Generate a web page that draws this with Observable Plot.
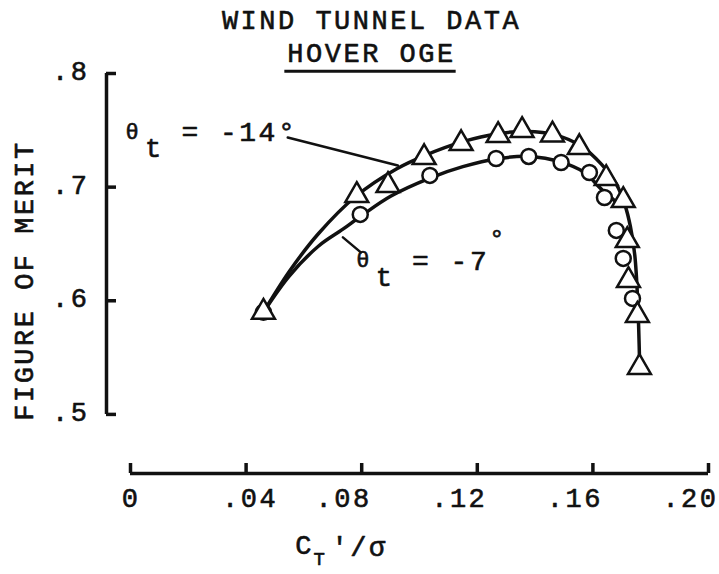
<!DOCTYPE html>
<html><head><meta charset="utf-8">
<script src="https://cdn.jsdelivr.net/npm/d3@7"></script>
<script src="https://cdn.jsdelivr.net/npm/@observablehq/plot@0.6"></script>
<style>html,body{margin:0;padding:0;background:#fff}svg{display:block}</style>
</head><body><div id="chart"></div>
<script>
// ---- data ----
const xTicks = [0, 0.04, 0.08, 0.12, 0.16, 0.20];
const xTickLabels = ["0", ".04", ".08", ".12", ".16", ".20"];
const yTicks = [0.5, 0.6, 0.7, 0.8];
const yTickLabels = [".5", ".6", ".7", ".8"];

// theta_t = -14 deg (triangles)
const triCT = [0.046, 0.0783, 0.0891, 0.1016, 0.1144, 0.1272, 0.1355, 0.1460, 0.1553, 0.1646, 0.1705, 0.1719, 0.1723, 0.1754, 0.1761];
const triFM = [0.590, 0.6927, 0.7015, 0.7261, 0.7384, 0.7455, 0.7499, 0.7460, 0.7349, 0.7077, 0.6883, 0.6531, 0.6179, 0.5872, 0.5414];
// theta_t = -7 deg (circles)
const cirCT = [0.046, 0.0795, 0.1036, 0.1265, 0.1378, 0.1490, 0.1588, 0.1640, 0.1681, 0.1705, 0.1737];
const cirFM = [0.590, 0.6760, 0.7103, 0.7252, 0.7270, 0.7217, 0.7129, 0.6909, 0.6619, 0.6373, 0.6021];

// faired curves
const fair14CT = [0.046, 0.055, 0.065, 0.078, 0.092, 0.102, 0.115, 0.127, 0.137, 0.147, 0.156, 0.163, 0.168, 0.171, 0.173, 0.1745, 0.1755, 0.1762];
const fair14FM = [0.590, 0.626, 0.659, 0.692, 0.716, 0.728, 0.740, 0.747, 0.749, 0.746, 0.736, 0.720, 0.703, 0.685, 0.665, 0.640, 0.600, 0.541];
const fair7CT = [0.046, 0.055, 0.065, 0.0735, 0.080, 0.090, 0.1036, 0.115, 0.127, 0.138, 0.149, 0.157, 0.163, 0.1685];
const fair7FM = [0.590, 0.622, 0.648, 0.663, 0.675, 0.692, 0.708, 0.718, 0.725, 0.727, 0.722, 0.713, 0.698, 0.686];

// label leader lines
const lead14CT = [0.0544, 0.0925];
const lead14FM = [0.7437, 0.7190];
const lead7CT = [0.0735, 0.0797];
const lead7FM = [0.6558, 0.6426];

// label anchors
const labelCT = [0.001, 0.0808];
const labelFM = [0.749, 0.6355];
const labelText = ["= -14°", "= -7"];

const yFloor = 0.448; // where the detached x axis sits

const tri = triCT.map((x, i) => ({x, y: triFM[i]}));
const cir = cirCT.map((x, i) => ({x, y: cirFM[i]}));
const f14 = fair14CT.map((x, i) => ({x, y: fair14FM[i]}));
const f7 = fair7CT.map((x, i) => ({x, y: fair7FM[i]}));
const l14 = lead14CT.map((x, i) => ({x, y: lead14FM[i]}));
const l7 = lead7CT.map((x, i) => ({x, y: lead7FM[i]}));
const labels = labelCT.map((x, i) => ({x, y: labelFM[i], t: labelText[i]}));

const ink = "#111";
const txt = {fill: ink, stroke: ink, strokeWidth: 0.6, lineAnchor: "middle"};
const plot = Plot.plot({
  width: 719, height: 574,
  marginTop: 73, marginBottom: 101, marginLeft: 130, marginRight: 11,
  x: {domain: [0, 0.2], axis: null},
  y: {domain: [yFloor, 0.8], axis: null},
  style: {fontFamily: "'Liberation Mono', 'DejaVu Sans Mono', monospace", fontSize: "27px", background: "white", color: ink, letterSpacing: "2.5px"},
  marks: [
    // title
    Plot.text(["WIND TUNNEL DATA"], {...txt, text: d => d, frameAnchor: "top", textAnchor: "middle", dx: -48, dy: -53, fontSize: 27}),
    Plot.text(["HOVER OGE"], {...txt, text: d => d, frameAnchor: "top", textAnchor: "middle", dx: -48, dy: -20, fontSize: 27}),
    // y axis
    Plot.ruleX([0], {y1: yTicks[0], y2: yTicks[yTicks.length - 1], dx: -24, stroke: ink, strokeWidth: 3.5}),
    Plot.ruleY(yTicks, {x1: 0, x2: 0, dx: -24, insetRight: -10, stroke: ink, strokeWidth: 3.5}),
    Plot.text(yTicks, {...txt, y: d => d, text: (d, i) => yTickLabels[i], frameAnchor: "left", textAnchor: "end", dx: -41, dy: -2, fontSize: 27}),
    Plot.text(["FIGURE OF MERIT"], {...txt, text: d => d, frameAnchor: "left", textAnchor: "middle", rotate: -90, dx: -106, dy: 7, fontSize: 27}),
    // x axis
    Plot.ruleY([yFloor], {x1: xTicks[0], x2: xTicks[xTicks.length - 1], stroke: ink, strokeWidth: 3.5}),
    Plot.ruleX(xTicks, {y1: yFloor, y2: yFloor, insetBottom: 10, stroke: ink, strokeWidth: 3.5}),
    Plot.text(xTicks, {...txt, x: d => d, text: (d, i) => xTickLabels[i], filter: (d, i) => i !== 1, frameAnchor: "bottom", textAnchor: "end", dx: 10, dy: 25, fontSize: 27}),
    Plot.text(xTicks, {...txt, x: d => d, text: (d, i) => xTickLabels[i], filter: (d, i) => i === 1, frameAnchor: "bottom", textAnchor: "middle", dx: 4, dy: 25, fontSize: 27}),
    Plot.text(["C"], {...txt, text: d => d, frameAnchor: "bottom-left", textAnchor: "middle", dx: 174, dy: 72, fontSize: 27}),
    Plot.text(["T"], {...txt, text: d => d, frameAnchor: "bottom-left", textAnchor: "middle", dx: 190, dy: 85, fontSize: 19}),
    Plot.text(["'/σ"], {...txt, text: d => d, frameAnchor: "bottom-left", textAnchor: "start", dx: 201, dy: 74, fontSize: 27}),
    // curves
    Plot.line(f14, {x: "x", y: "y", curve: "catmull-rom", stroke: ink, strokeWidth: 3.5}),
    Plot.line(f7, {x: "x", y: "y", curve: "catmull-rom", stroke: ink, strokeWidth: 3.5}),
    Plot.line(l14, {x: "x", y: "y", stroke: ink, strokeWidth: 2.5}),
    Plot.line(l7, {x: "x", y: "y", stroke: ink, strokeWidth: 2.5}),
    // points
    Plot.dot(cir, {x: "x", y: "y", r: 7.5, stroke: ink, strokeWidth: 2.5, fill: "white"}),
    Plot.dot(tri, {x: "x", y: "y", symbol: "triangle", r: 8.5, stroke: ink, strokeWidth: 2.5, fill: "white"}),
    // labels
    Plot.text(labels, {...txt, x: "x", y: "y", text: () => "θ", textAnchor: "middle", fontSize: 22}),
    Plot.text(labels, {...txt, x: "x", y: "y", text: () => "t", textAnchor: "middle", dx: 21, dy: 17, fontSize: 27}),
    Plot.text(labels, {...txt, x: "x", y: "y", text: "t", textAnchor: "start", dx: 48, dy: 1, fontSize: 28}),
    Plot.text([labels[1]], {...txt, x: "x", y: "y", text: () => "°", textAnchor: "middle", dx: 134, dy: -22, fontSize: 26})
  ]
});
document.getElementById("chart").appendChild(plot);
// underline the second title line using its own bounding box (in its own coordinate system)
plot.querySelectorAll("text").forEach(function (t) {
  if (t.textContent !== "HOVER OGE") return;
  const b = t.getBBox();
  const ln = document.createElementNS("http://www.w3.org/2000/svg", "line");
  const y = b.y + b.height + 1;
  ln.setAttribute("x1", b.x - 3); ln.setAttribute("x2", b.x + b.width);
  ln.setAttribute("y1", y); ln.setAttribute("y2", y);
  ln.setAttribute("stroke", ink); ln.setAttribute("stroke-width", 3);
  const tr = t.getAttribute("transform");
  if (tr) ln.setAttribute("transform", tr);
  t.parentNode.appendChild(ln);
});
</script>
</body></html>
